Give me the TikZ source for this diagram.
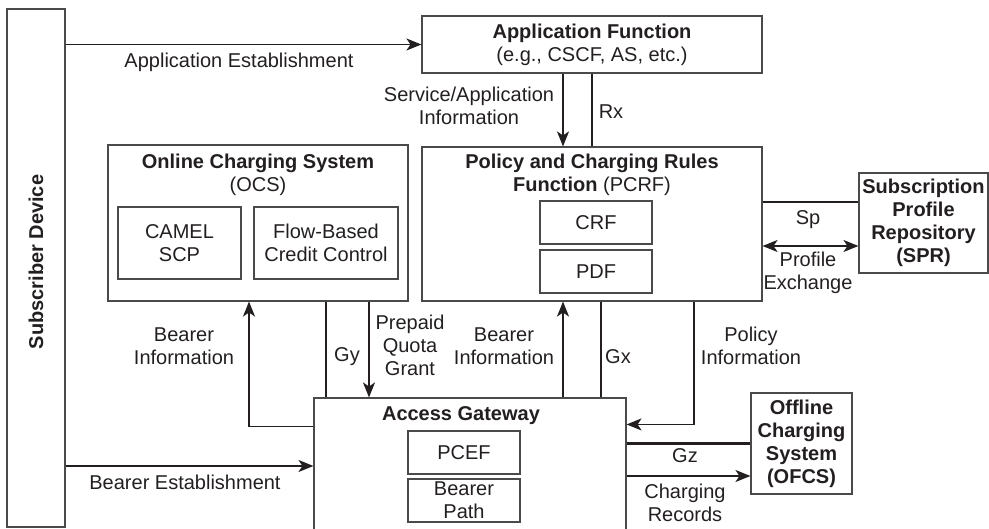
\documentclass[tikz,border=0pt]{standalone}
\usepackage{fontspec}
\setmainfont{Liberation Sans}
\usetikzlibrary{arrows.meta}
\definecolor{ink}{HTML}{231F20}
\definecolor{frame}{HTML}{4A4A4A}
\tikzset{
  box/.style={draw=frame, line width=1.1pt, fill=white, inner sep=0pt, align=center,
    text=ink, font=\fontsize{20}{23}\selectfont},
  lbl/.style={inner sep=0pt, align=center, text=ink, font=\fontsize{20}{23}\selectfont},
  tip/.tip={Stealth[length=15pt,width=12pt,inset=4pt]},
  arr/.style={draw=ink, line width=1.4pt, -tip},
  darr/.style={draw=ink, line width=1.4pt, tip-tip},
  iface/.style={draw=ink, line width=2.2pt},
}
\begin{document}
\begin{tikzpicture}[x=1pt,y=-1pt]
\useasboundingbox (0,0) rectangle (989,529);
\clip (0,0) rectangle (989,529);
% boxes
\node[box, minimum width=58pt, minimum height=518pt] (sub) at (36,268) {};
\node[lbl, rotate=90, font=\fontsize{20}{23}\selectfont\bfseries] (subt) at (36,262) {Subscriber Device};
\node[box, minimum width=340pt, minimum height=57pt] (af) at (592,44.5)
  {\textbf{Application Function}\\(e.g., CSCF, AS, etc.)};
\node[box, minimum width=300pt, minimum height=156pt] (ocs) at (258,223) {};
\node[lbl] (ocst) at (258,175) {\textbf{Online Charging System}\\(OCS)};
\node[box, minimum width=123pt, minimum height=72pt] (camel) at (179.5,243) {CAMEL\\SCP};
\node[box, minimum width=144pt, minimum height=72pt] (flow) at (326,243) {Flow-Based\\Credit Control};
\node[box, minimum width=340pt, minimum height=154pt] (pcrf) at (592,224) {};
\node[lbl] (pcrft) at (592,175) {\textbf{Policy and Charging Rules}\\\textbf{Function} (PCRF)};
\node[box, minimum width=112pt, minimum height=43pt] (crf) at (596,222.5) {CRF};
\node[box, minimum width=112pt, minimum height=43pt] (pdf) at (596,271.5) {PDF};
\node[box, minimum width=129pt, minimum height=100pt, font=\fontsize{20}{23}\selectfont\bfseries] (spr) at (923.5,223)
  {Subscription\\Profile\\Repository\\(SPR)};
\node[box, minimum width=312pt, minimum height=142pt] (ag) at (470,469) {};
\node[lbl, font=\fontsize{20}{23}\selectfont\bfseries] (agt) at (461,416) {Access Gateway};
\node[box, minimum width=112pt, minimum height=43pt] (pcef) at (464,452.5) {PCEF};
\node[box, minimum width=112pt, minimum height=43pt] (bpath) at (464,500.5) {Bearer\\Path};
\node[box, minimum width=101pt, minimum height=101pt, font=\fontsize{20}{23}\selectfont\bfseries] (ofcs) at (801.5,443.5)
  {Offline\\Charging\\System\\(OFCS)};
% connectors
\draw[arr] (sub.east |- af.west) -- (af.west);
\node[lbl] (l1) at (239,62) {Application Establishment};
\draw[arr] ([xshift=-29pt]af.south) -- ([xshift=-29pt]pcrf.north);
\draw[iface] (af.south) -- (pcrf.north);
\node[lbl] (l2) at (469,106) {Service/Application\\Information};
\node[lbl] (l3) at (611,112) {Rx};
\draw[iface] ([yshift=21pt]spr.west) -- ([yshift=21pt]spr.west -| pcrf.east);
\draw[darr] ([yshift=-23pt]spr.west -| pcrf.east) -- ([yshift=-23pt]spr.west);
\node[lbl] (l4) at (808,220) {Sp};
\node[lbl] (l5) at (808,273) {Profile\\Exchange};
\draw[arr] ([yshift=-29pt]ag.north west) -| ([xshift=-9pt]ocs.south);
\node[lbl] (l6) at (184,346) {Bearer\\Information};
\draw[iface] ([xshift=68pt]ocs.south) -- ([xshift=68pt]ocs.south |- ag.north);
\node[lbl] (l7) at (347,357) {Gy};
\draw[arr] ([xshift=111pt]ocs.south) -- ([xshift=111pt]ocs.south |- ag.north);
\node[lbl] (l8) at (410,345) {Prepaid\\Quota\\Grant};
\draw[arr] ([xshift=-29pt]pcrf.south |- ag.north) -- ([xshift=-29pt]pcrf.south);
\node[lbl] (l9) at (504,346) {Bearer\\Information};
\draw[iface] ([xshift=9pt]pcrf.south) -- ([xshift=9pt]pcrf.south |- ag.north);
\node[lbl] (l10) at (618,357) {Gx};
\draw[arr] ([xshift=102pt]pcrf.south) |- ([yshift=-27pt]ag.north east);
\node[lbl] (l11) at (751,346) {Policy\\Information};
\draw[iface] (ag.east |- ofcs.west) -- (ofcs.west);
\node[lbl] (l12) at (685,456) {Gz};
\draw[arr] (ag.east |- 0,476) -- (ofcs.west |- 0,476);
\node[lbl] (l13) at (685,503) {Charging\\Records};
\draw[arr] (sub.east |- 0,466) -- (ag.west |- 0,466);
\node[lbl] (l14) at (185,482) {Bearer Establishment};
\end{tikzpicture}
\end{document}
